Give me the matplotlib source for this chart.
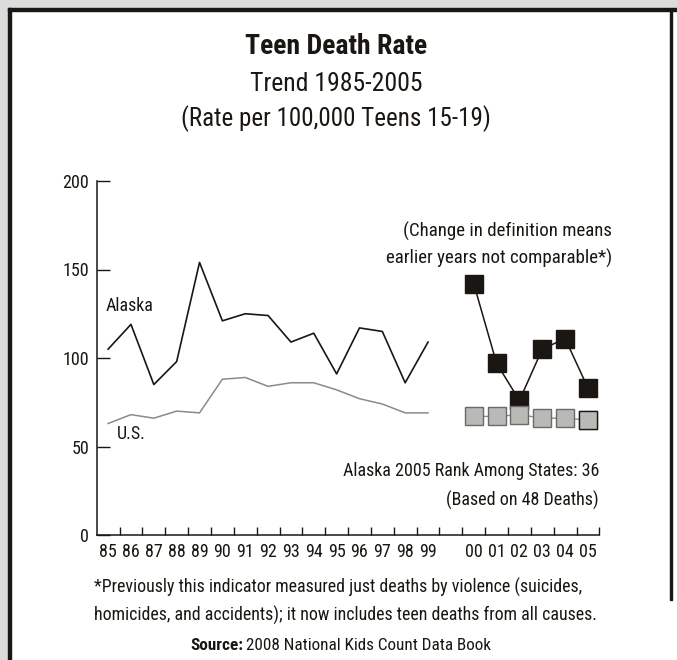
import matplotlib.pyplot as plt
from matplotlib.patches import Rectangle

plt.rcParams['font.family'] = ['Roboto Condensed', 'DejaVu Sans']

# --- data (rate per 100,000 teens 15-19) ---
years_early = ['85', '86', '87', '88', '89', '90', '91', '92', '93', '94', '95', '96', '97', '98', '99']
alaska_early = [105, 119, 85, 98, 154, 121, 125, 124, 109, 114, 91, 117, 115, 86, 109]
us_early = [63, 68, 66, 70, 69, 88, 89, 84, 86, 86, 82, 77, 74, 69, 69]

years_late = ['00', '01', '02', '03', '04', '05']
alaska_late = [142, 97, 76, 105, 111, 83]
us_late = [67, 67, 68, 66, 66, 65]

W, H = 677, 660
ink = '#1a1712'


def fx(px):
    return px / W


def fy(py):
    return 1 - py / H


fig = plt.figure(figsize=(W / 100, H / 100), dpi=100)

# frame: grey margin top/left with a dark rule
fig.patches.append(Rectangle((0, 0), fx(8), 1, transform=fig.transFigure, color='#dcdcdc', zorder=0))
fig.patches.append(Rectangle((0, fy(8)), 1, 8 / H, transform=fig.transFigure, color='#dcdcdc', zorder=0))
fig.patches.append(Rectangle((fx(8), 0), 3 / W, fy(8), transform=fig.transFigure, color=ink, zorder=1))
fig.patches.append(Rectangle((fx(8), fy(11)), 1, 3 / H, transform=fig.transFigure, color=ink, zorder=1))
fig.patches.append(Rectangle((fx(670), fy(600)), 2 / W, (600 - 11) / H, transform=fig.transFigure, color=ink, zorder=1))

ax = fig.add_axes([fx(96.7), fy(535), fx(599.4) - fx(96.7), fy(181) - fy(535)])

# slot positions: 15 early years, one empty slot, 6 later years
x_early = [i + 0.5 for i in range(len(years_early))]
x_late = [len(years_early) + 1 + j + 0.5 for j in range(len(years_late))]
n_slots = len(years_early) + 1 + len(years_late)

ax.plot(x_early, alaska_early, color=ink, lw=1.2, zorder=3)
ax.plot(x_early, us_early, color='#8a8a8a', lw=1.1, zorder=3)

ax.plot(x_late, alaska_late, color=ink, lw=1.1, marker='s', ms=12.5,
        mfc=ink, mec=ink, zorder=3)
ax.plot(x_late, us_late, color='#8a8a8a', lw=1.0, marker='s', ms=12.5,
        mfc='#b9b9b6', mec='#6a6a6a', mew=1.0, zorder=4)
ax.plot(x_late[-1:], us_late[-1:], ls='none', marker='s', ms=12.5,
        mfc='#b9b9b6', mec=ink, mew=1.0, zorder=5)

ax.set_xlim(0, n_slots)
ax.set_ylim(0, 200)
for s in ['top', 'right']:
    ax.spines[s].set_visible(False)
for s in ['left', 'bottom']:
    ax.spines[s].set_linewidth(1.1)
    ax.spines[s].set_color(ink)

ax.set_yticks([0, 50, 100, 150, 200])
ax.tick_params(axis='y', direction='in', length=9, width=1.0, color=ink,
               labelsize=13, pad=5.5, labelcolor=ink)
ax.set_xticks(range(1, n_slots + 1))
ax.set_xticklabels([])
ax.tick_params(axis='x', which='major', direction='in', length=6, width=1.0, color=ink)
ax.set_xticks(x_early + x_late, minor=True)
ax.set_xticklabels(years_early + years_late, minor=True)
ax.tick_params(axis='x', which='minor', length=0, labelsize=13, pad=6, labelcolor=ink)

ax.text(0.4, 129.5, 'Alaska', fontsize=13, color=ink, ha='left', va='center')
ax.text(0.9, 57, 'U.S.', fontsize=13, color=ink, ha='left', va='center')

# titles and notes
fig.text(fx(336), fy(47), 'Teen Death Rate', ha='center', va='center', fontsize=20,
         weight='bold', color=ink)
fig.text(fx(336), fy(84), 'Trend 1985-2005', ha='center', va='center', fontsize=18.5, color=ink)
fig.text(fx(336), fy(119), '(Rate per 100,000 Teens 15-19)', ha='center', va='center',
         fontsize=18, color=ink)

fig.text(fx(612), fy(231), '(Change in definition means', ha='right', va='center',
         fontsize=13.6, color=ink)
fig.text(fx(612), fy(258), 'earlier years not comparable*)', ha='right', va='center',
         fontsize=13.6, color=ink)
fig.text(fx(599), fy(471), 'Alaska 2005 Rank Among States: 36', ha='right', va='center',
         fontsize=13, color=ink)
fig.text(fx(599), fy(500), '(Based on 48 Deaths)', ha='right', va='center',
         fontsize=13, color=ink)

fig.text(fx(94), fy(587), '*Previously this indicator measured just deaths by violence (suicides,',
         ha='left', va='center', fontsize=12.9, color=ink)
fig.text(fx(94), fy(615), 'homicides, and accidents); it now includes teen deaths from all causes.',
         ha='left', va='center', fontsize=12.9, color=ink)
fig.text(fx(243), fy(645), 'Source:', ha='right', va='center', fontsize=12.3,
         weight='bold', color=ink)
fig.text(fx(246), fy(645), '2008 National Kids Count Data Book', ha='left', va='center',
         fontsize=12.3, color=ink)

fig.savefig('out.png', dpi=100)
